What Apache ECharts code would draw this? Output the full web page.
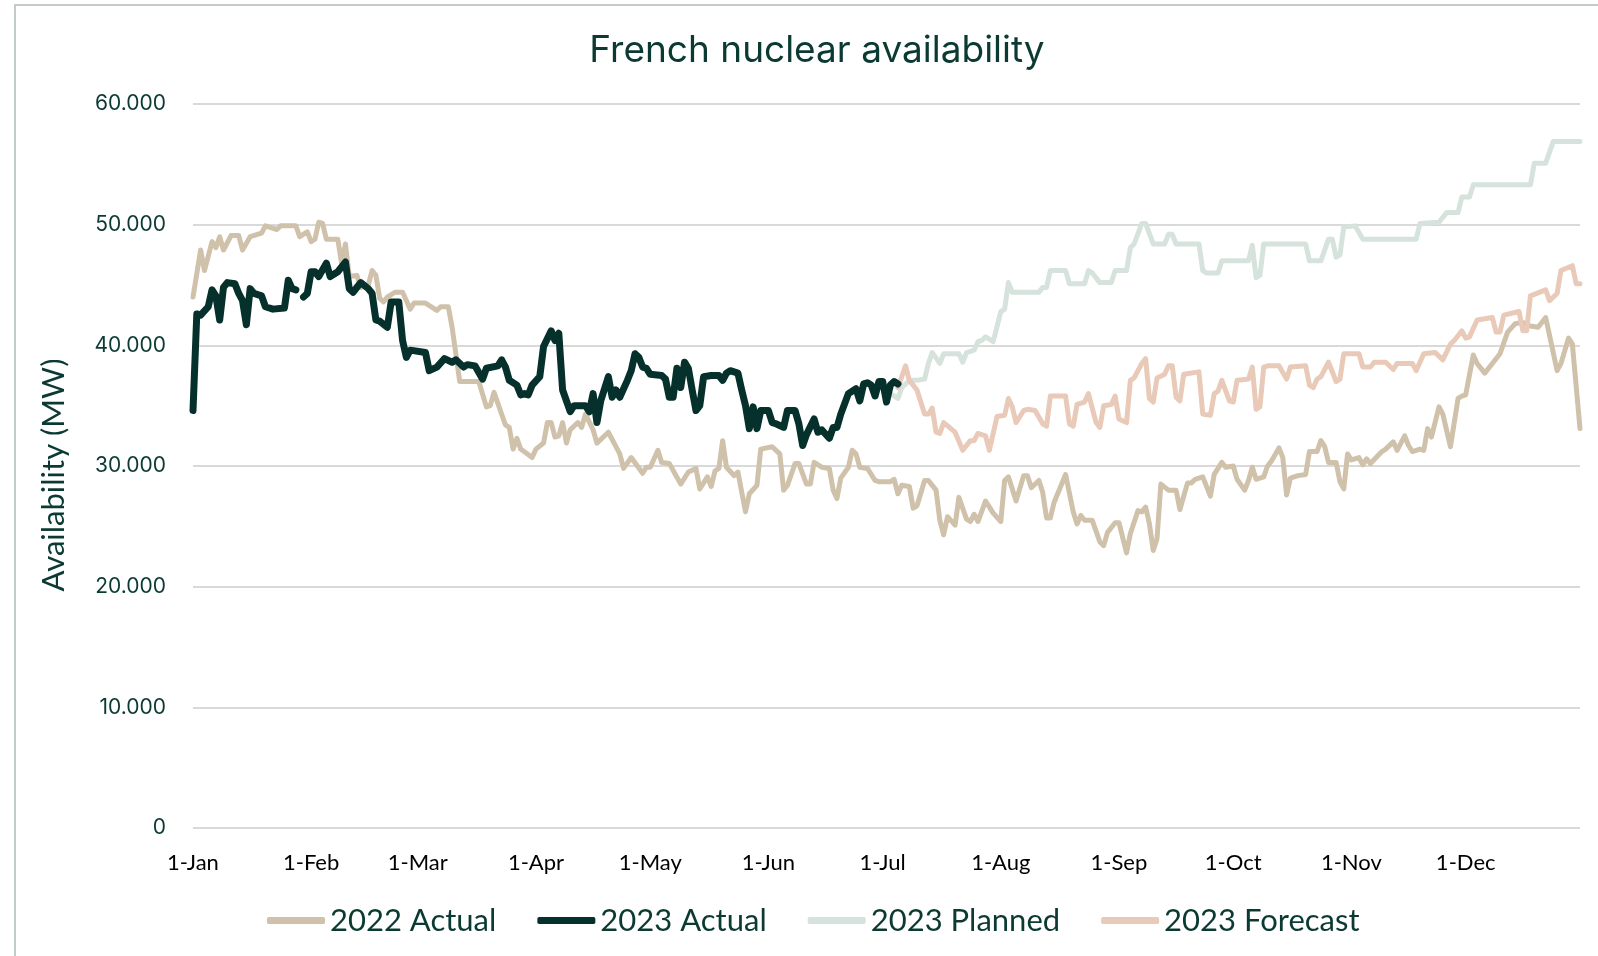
<!DOCTYPE html>
<html>
<head>
<meta charset="utf-8">
<title>French nuclear availability</title>
<script src="https://cdn.jsdelivr.net/npm/echarts@6/dist/echarts.min.js"></script>
<style>
  html, body { margin: 0; padding: 0; background: #fff; }
  #main { width: 1598px; height: 956px; }
</style>
</head>
<body>
<div id="main"></div>
<script>
// day of year (0 = 1-Jan) and availability in MW
var monthStarts = [0, 31, 59, 90, 120, 151, 181, 212, 243, 273, 304, 334];
var monthLabels = ['1-Jan', '1-Feb', '1-Mar', '1-Apr', '1-May', '1-Jun', '1-Jul', '1-Aug', '1-Sep', '1-Oct', '1-Nov', '1-Dec'];

var actual2022 = [
  [0,44000],[2,47900],[3,46200],[5,48600],[6,48100],[7,49000],[8,47900],[10,49100],[12,49100],[13,47900],
  [15,49000],[18,49300],[19,49900],[22,49600],[23,49900],[27,49900],[28,49000],[30,49400],[31,48600],[32,48800],
  [33,50200],[34,50100],[35,48800],[38,48800],[39,46800],[40,48400],[41,45700],[43,45800],[44,44800],[46,45000],
  [47,46200],[48,45800],[49,43900],[50,43600],[51,44000],[53,44400],[55,44400],[57,43000],[58,43500],[61,43500],
  [64,42900],[65,43200],[67,43200],[68,41500],[70,37000],[75,37000],[77,34900],[78,35000],[79,36100],[82,33400],
  [83,33200],[84,31400],[85,32300],[86,31400],[89,30700],[90,31400],[92,31900],[93,33600],[94,33600],[95,32400],
  [96,32500],[97,33600],[98,31900],[99,33000],[101,33600],[102,33200],[103,34300],[105,33000],[106,31900],[109,32800],
  [111,31600],[112,31000],[113,29800],[115,30700],[118,29400],[119,29900],[120,29900],[122,31300],[123,30300],[125,30200],
  [128,28500],[130,29500],[132,29800],[133,28100],[135,29100],[136,28300],[137,29600],[138,29800],[139,32100],[140,29900],
  [142,29200],[143,29500],[145,26200],[146,27700],[148,28400],[149,31400],[152,31600],[154,31000],[155,28000],[156,28400],
  [158,30200],[159,30200],[161,28500],[162,28500],[163,30300],[165,29900],[167,29800],[168,28000],[169,27300],[170,29000],
  [172,29900],[173,31300],[174,31000],[175,29900],[177,29800],[179,28800],[180,28700],[183,28700],[184,28900],[185,27700],
  [186,28400],[188,28300],[189,26500],[190,26700],[192,28800],[193,28800],[195,28000],[196,25500],[197,24300],[198,25800],
  [200,25100],[201,27400],[203,25600],[204,25400],[205,26000],[206,25400],[208,27100],[210,26100],[212,25400],[213,28800],
  [214,29100],[216,27100],[218,29200],[219,29200],[220,28200],[222,28800],[223,27800],[224,25700],[225,25700],[226,27000],
  [229,29300],[231,26200],[232,25200],[233,25900],[234,25500],[236,25500],[238,23700],[239,23400],[240,24500],[242,25300],
  [243,25300],[245,22800],[246,24400],[248,26300],[249,26200],[250,26600],[251,25200],[252,23000],[253,24000],[254,28500],
  [256,28000],[258,28000],[259,26400],[261,28600],[262,28600],[263,28900],[265,29100],[267,27500],[268,29300],[270,30300],
  [271,29900],[273,30000],[274,28900],[276,28000],[277,28800],[278,29900],[279,28900],[281,29100],[282,30000],[283,30400],
  [285,31500],[286,30700],[287,27600],[288,29000],[290,29200],[292,29300],[293,31200],[295,31200],[296,32100],[297,31600],
  [298,30300],[300,30300],[301,28700],[302,28100],[303,31000],[304,30500],[306,30700],[307,30100],[308,30600],[309,30200],
  [312,31200],[313,31400],[315,32000],[316,31300],[318,32500],[319,31700],[320,31200],[322,31400],[323,31300],[324,33100],
  [325,32400],[327,34900],[328,34300],[330,31600],[332,35600],[333,35800],[334,35900],[336,39200],[337,38500],[339,37700],
  [341,38500],[343,39300],[345,41100],[347,41800],[349,41900],[351,41600],[353,41500],[355,42300],[358,37900],[359,38500],
  [361,40600],[362,40100],[364,33100]
];

var actual2023 = [
  [0,34600],[1,42600],[2,42500],[4,43200],[5,44600],[6,44100],[7,42100],[8,44800],[9,45200],[11,45100],
  [12,44300],[13,43700],[14,41700],[15,44700],[16,44300],[18,44100],[19,43200],[21,43000],[24,43100],[25,45400],
  [26,44700],[27,44600],[28,null],[29,44000],[30,44300],[31,46100],[32,46100],[33,45700],[35,46800],[36,45700],
  [38,46100],[40,46900],[41,44700],[42,44400],[44,45200],[46,44700],[47,44300],[48,42100],[49,42000],[51,41500],
  [52,43600],[54,43600],[55,40400],[56,39000],[57,39600],[61,39400],[62,37900],[64,38200],[66,38900],[68,38600],
  [69,38800],[71,38200],[72,38400],[74,38300],[76,37200],[77,38100],[80,38300],[81,38800],[82,38200],[83,37100],
  [85,36700],[86,35900],[87,36000],[88,35900],[89,36700],[91,37400],[92,39900],[94,41200],[95,40400],[96,41000],
  [97,36300],[99,34500],[100,35000],[103,35000],[104,34500],[105,36000],[106,33600],[107,35400],[109,37400],[110,35700],
  [111,36300],[112,35700],[114,37100],[115,37900],[116,39300],[117,39000],[118,38200],[119,38100],[120,37600],[123,37500],
  [124,37200],[125,35700],[126,35700],[127,38100],[128,36500],[129,38600],[130,38100],[131,36300],[132,34600],[133,35000],
  [134,37400],[136,37500],[138,37500],[139,37100],[140,37700],[141,37900],[143,37700],[144,36300],[145,35000],[146,33100],
  [147,34900],[148,33100],[149,34600],[151,34600],[152,33600],[153,33500],[155,33200],[156,34600],[158,34600],[159,33500],
  [160,31700],[161,32600],[163,33900],[164,32800],[165,33000],[167,32300],[168,33200],[169,33200],[170,34300],[172,36000],
  [174,36400],[175,35400],[176,36800],[177,36900],[178,36700],[179,35800],[180,37000],[181,37000],[182,35300],[183,36700],
  [184,37000],[185,36800]
];

var planned2023 = [
  [183,36000],[185,35600],[186,36500],[188,37100],[190,37100],[192,37200],[193,38500],[194,39400],[196,38500],[197,39300],
  [201,39300],[202,38600],[203,39400],[205,39600],[206,40300],[207,40400],[208,40700],[210,40300],[212,42800],[213,43000],
  [214,45200],[215,44400],[222,44400],[223,44800],[224,44800],[225,46200],[229,46200],[230,45100],[234,45100],[235,46200],
  [236,46000],[238,45200],[241,45200],[242,46200],[245,46200],[246,48100],[247,48400],[249,50100],[250,50100],[252,48400],
  [255,48400],[256,49200],[257,49200],[258,48400],[264,48400],[265,46200],[266,46000],[269,46000],[270,47000],[277,47000],
  [278,48300],[279,45600],[280,45800],[281,48400],[292,48400],[293,47000],[296,47000],[298,48800],[299,48800],[300,47300],
  [301,47500],[302,49800],[305,49900],[307,48800],[321,48800],[322,50100],[327,50200],[329,51000],[332,51000],[333,52300],
  [335,52300],[336,53300],[351,53300],[352,55100],[355,55100],[357,56900],[364,56900]
];

var forecast2023 = [
  [185,36500],[187,38300],[188,37100],[190,36300],[192,34300],[193,34300],[194,34800],[195,32800],[196,32700],[197,33600],
  [200,32800],[202,31300],[204,32100],[205,32100],[206,32700],[208,32500],[209,31300],[211,34100],[213,34200],[214,35600],
  [215,34900],[216,33600],[218,34600],[219,34700],[221,34600],[223,33500],[224,33300],[225,35800],[229,35800],[230,33500],
  [231,33300],[232,35100],[234,35300],[235,36000],[237,33600],[238,33200],[239,35000],[241,35100],[242,35800],[243,33900],
  [245,33600],[246,37100],[247,37300],[249,38500],[250,38900],[251,35600],[252,35300],[253,37300],[255,37600],[256,38300],
  [257,38300],[258,35700],[259,35400],[260,37600],[264,37800],[265,34300],[267,34200],[268,36000],[269,36200],[270,37100],
  [272,35400],[273,35300],[274,37100],[277,37200],[278,38200],[279,34700],[280,34900],[281,38200],[282,38300],[285,38300],
  [287,37200],[288,38200],[292,38300],[293,36700],[294,36500],[295,37200],[296,37400],[298,38600],[300,37000],[301,37200],
  [302,39300],[306,39300],[307,38200],[309,38200],[310,38600],[313,38600],[315,38000],[316,38500],[320,38500],[321,37900],
  [323,39300],[326,39400],[328,38800],[330,40100],[331,40400],[333,41200],[334,40600],[335,40700],[337,42100],[341,42300],
  [342,41100],[343,41100],[344,42500],[348,42800],[349,41200],[350,41200],[351,44100],[355,44600],[356,43700],[358,44300],
  [359,46200],[362,46600],[363,45100],[364,45100]
];

var darkText = '#0b3a33';

var myChart = echarts.init(document.getElementById('main'));

var option = {
  animation: false,
  backgroundColor: '#ffffff',
  graphic: [{
    type: 'rect',
    shape: { x: 15, y: 5, width: 1700, height: 1100 },
    style: { fill: 'none', stroke: '#c4ccc9', lineWidth: 2 },
    silent: true
  }],
  title: {
    text: 'French nuclear availability',
    left: 812,
    textAlign: 'center',
    top: 27,
    textStyle: { fontFamily: 'Inter', fontSize: 37, fontWeight: 'normal', color: darkText }
  },
  legend: {
    left: 267,
    top: 905,
    padding: 0,
    itemWidth: 58,
    itemHeight: 7,
    itemGap: 41,
    icon: 'roundRect',
    textStyle: { fontFamily: 'Lato', fontSize: 31, color: darkText },
    data: ['2022 Actual', '2023 Actual', '2023 Planned', '2023 Forecast']
  },
  grid: { left: 193, right: 18, top: 104, bottom: 128, containLabel: false },
  xAxis: {
    type: 'value',
    min: 0,
    max: 364,
    axisLine: { show: false },
    axisTick: { show: false },
    splitLine: { show: false },
    axisLabel: {
      customValues: monthStarts,
      formatter: function (v) {
        var i = monthStarts.indexOf(v);
        return i >= 0 ? monthLabels[i] : '';
      },
      color: '#000000',
      fontFamily: 'Lato',
      fontSize: 22,
      margin: 24
    }
  },
  yAxis: {
    type: 'value',
    min: 0,
    max: 60000,
    interval: 10000,
    name: 'Availability (MW)',
    nameLocation: 'middle',
    nameGap: 124,
    nameTextStyle: { fontFamily: 'Lato', fontSize: 31, color: darkText, padding: [0, 18, 0, 0] },
    axisLine: { show: false },
    axisTick: { show: false },
    splitLine: { lineStyle: { color: '#d9d9d9', width: 2 } },
    axisLabel: {
      formatter: function (v) { return v === 0 ? '0' : (v / 1000) + '.000'; },
      color: darkText,
      fontFamily: 'Inter',
      fontSize: 21,
      margin: 27
    }
  },
  series: [
    {
      name: '2022 Actual', type: 'line', data: actual2022, z: 2,
      showSymbol: false, symbol: 'none', color: '#cfc1aa',
      lineStyle: { width: 5, color: '#cfc1aa', cap: 'round', join: 'round' }
    },
    {
      name: '2023 Actual', type: 'line', data: actual2023, z: 5,
      showSymbol: false, symbol: 'none', color: '#05302b',
      lineStyle: { width: 7, color: '#05302b', cap: 'round', join: 'round' }
    },
    {
      name: '2023 Planned', type: 'line', data: planned2023, z: 3,
      showSymbol: false, symbol: 'none', color: '#d6e3dc',
      lineStyle: { width: 5, color: '#d6e3dc', cap: 'round', join: 'round' }
    },
    {
      name: '2023 Forecast', type: 'line', data: forecast2023, z: 4,
      showSymbol: false, symbol: 'none', color: '#e9c9b8',
      lineStyle: { width: 5, color: '#e9c9b8', cap: 'round', join: 'round' }
    }
  ]
};

myChart.setOption(option);
</script>
</body>
</html>
